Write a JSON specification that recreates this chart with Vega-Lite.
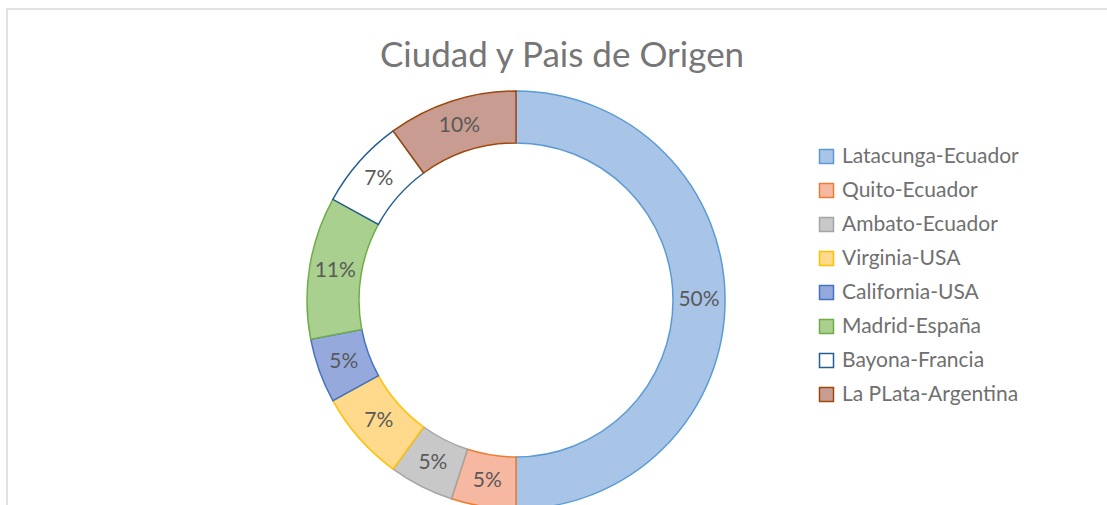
{
  "$schema": "https://vega.github.io/schema/vega-lite/v6.json",
  "autosize": "none",
  "width": 1102,
  "height": 500,
  "padding": {"left": 7, "top": 9, "right": 0, "bottom": 0},
  "background": "white",
  "view": {"stroke": "#d9d9d9", "strokeWidth": 1.5, "fill": "white"},
  "config": {
    "font": "Lato"
  },
  "title": {
    "text": "Ciudad y Pais de Origen",
    "orient": "top",
    "anchor": "middle",
    "offset": -65,
    "dx": 4,
    "fontSize": 35,
    "font": "Lato",
    "fontWeight": "normal",
    "color": "#767676"
  },
  "data": {
    "values": [
      {"idx": 1, "city": "Latacunga-Ecuador", "pct": 50, "label": "50%"},
      {"idx": 2, "city": "Quito-Ecuador", "pct": 5, "label": "5%"},
      {"idx": 3, "city": "Ambato-Ecuador", "pct": 5, "label": "5%"},
      {"idx": 4, "city": "Virginia-USA", "pct": 7, "label": "7%"},
      {"idx": 5, "city": "California-USA", "pct": 5, "label": "5%"},
      {"idx": 6, "city": "Madrid-España", "pct": 11, "label": "11%"},
      {"idx": 7, "city": "Bayona-Francia", "pct": 7, "label": "7%"},
      {"idx": 8, "city": "La PLata-Argentina", "pct": 10, "label": "10%"}
    ]
  },
  "encoding": {
    "theta": {"field": "pct", "type": "quantitative", "stack": true},
    "order": {"field": "idx", "type": "quantitative"}
  },
  "layer": [
    {
      "mark": {"type": "arc", "outerRadius": 209, "innerRadius": 157, "strokeWidth": 1.5, "x": 509, "y": 291},
      "encoding": {
        "fill": {
          "field": "city",
          "type": "nominal",
          "scale": {
            "domain": ["Latacunga-Ecuador", "Quito-Ecuador", "Ambato-Ecuador", "Virginia-USA", "California-USA", "Madrid-España", "Bayona-Francia", "La PLata-Argentina"],
            "range": ["#a8c5e8", "#f6b8a0", "#c8c8c8", "#ffd98c", "#95a9dc", "#aad08f", "#ffffff", "#c89c90"]
          },
          "sort": null,
          "legend": {
            "orient": "none",
            "legendX": 809,
            "legendY": 137,
            "title": null,
            "symbolType": "square",
            "symbolSize": 196,
            "symbolStrokeWidth": 1.5,
            "labelFontSize": 21,
            "labelFont": "Lato",
            "labelColor": "#707070",
            "labelOffset": 5,
            "rowPadding": 12,
            "labelLimit": 300
          }
        },
        "stroke": {
          "field": "city",
          "type": "nominal",
          "scale": {
            "domain": ["Latacunga-Ecuador", "Quito-Ecuador", "Ambato-Ecuador", "Virginia-USA", "California-USA", "Madrid-España", "Bayona-Francia", "La PLata-Argentina"],
            "range": ["#5b9bd5", "#ed7d31", "#a5a5a5", "#ffc000", "#4472c4", "#70ad47", "#255e91", "#9e480e"]
          },
          "sort": null,
          "legend": null
        }
      }
    },
    {
      "mark": {"type": "text", "radius": 183, "fontSize": 21, "font": "Lato", "color": "#595959", "x": 509, "y": 291},
      "encoding": {
        "text": {"field": "label", "type": "nominal"}
      }
    }
  ]
}
